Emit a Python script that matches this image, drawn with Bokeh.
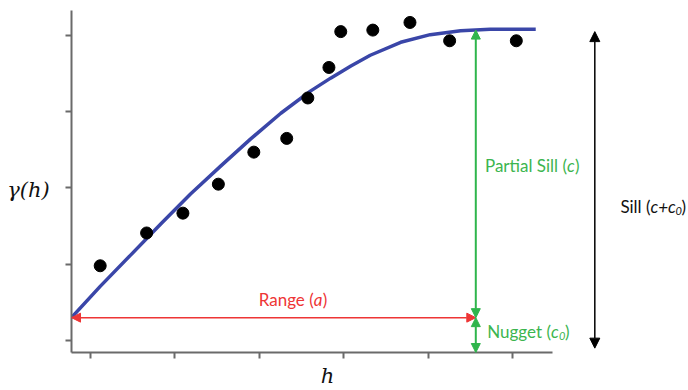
from bokeh.plotting import figure
from bokeh.layouts import row
from bokeh.models import Arrow, NormalHead, FixedTicker, CustomJSTickFormatter, Range1d
from bokeh.core.properties import value
from bokeh.embed import file_html
from bokeh.resources import INLINE

# ---- data ----
lag_h = [0.34, 0.89, 1.32, 1.74, 2.16, 2.55, 2.80, 3.05, 3.19, 3.57, 4.01, 4.48, 5.27]
semivar = [0.98, 1.41, 1.67, 2.05, 2.47, 2.65, 3.18, 3.58, 4.05, 4.07, 4.17, 3.93, 3.93]
model_h = [0.00, 0.34, 0.70, 1.06, 1.41, 1.77, 2.12, 2.48, 2.83, 3.07, 3.31, 3.54, 3.90, 4.25, 4.61, 4.96, 5.50]
model_g = [0.30, 0.71, 1.12, 1.53, 1.92, 2.29, 2.64, 2.98, 3.27, 3.44, 3.60, 3.74, 3.91, 4.01, 4.06, 4.08, 4.08]
nugget = 0.30
sill = 4.07
range_a = 4.79
x_ticks = [0.225, 1.225, 2.225, 3.225, 4.225, 5.225]
y_ticks = [0, 1, 2, 3, 4]

# ---- layout constants ----
X0, XM, X1 = 0.0, 6.066, 7.31
Y0, Y1 = -0.157, 4.458
AXIS_X_END = 5.70
AXIS_Y_END = 4.33
SILL_ARROW_X = 6.20

BLUE = "#3a46a8"
RED = "#ee3535"
GREEN = "#2fb54c"
GREEN_TXT = "#3cb54f"
AXIS = "#6a6a6a"
INK = "#111111"
FONT = value("Lato")

y_range = Range1d(Y0, Y1)

def bare(width, x_range, left=0):
    f = figure(width=width, height=390, output_backend="svg", toolbar_location=None,
               x_range=x_range, y_range=y_range,
               min_border_left=left, min_border_right=0, min_border_top=0, min_border_bottom=37)
    f.outline_line_color = None
    f.grid.visible = False
    f.background_fill_color = "white"
    f.border_fill_color = "white"
    return f

# left strip: y-axis title
pl = bare(60, Range1d(0, 60))
pl.axis.visible = False
pl.text(x=[28], y=[1.97], text=["γ(h)"], text_font=value("DejaVu Serif"), text_font_style="italic",
        text_font_size="21px", text_color=INK, text_align="center", text_baseline="middle")

# main plot
p = bare(523, Range1d(X0, XM), left=11)
for ax in (p.xaxis[0], p.yaxis[0]):
    ax.axis_line_color = AXIS
    ax.axis_line_width = 2
    ax.major_tick_line_color = AXIS
    ax.major_tick_line_width = 2
    ax.major_tick_out = 6
    ax.major_tick_in = 0
    ax.minor_tick_line_color = None
    ax.formatter = CustomJSTickFormatter(code="return ''")
    ax.major_label_standoff = 0

p.xaxis[0].ticker = FixedTicker(ticks=x_ticks)
p.yaxis[0].ticker = FixedTicker(ticks=y_ticks)
p.xaxis[0].bounds = (X0, AXIS_X_END)
p.yaxis[0].bounds = (Y0, AXIS_Y_END)
p.xaxis[0].axis_label = "h"
p.xaxis[0].axis_label_text_font = "DejaVu Serif"
p.xaxis[0].axis_label_text_font_style = "italic"
p.xaxis[0].axis_label_text_font_size = "21px"
p.xaxis[0].axis_label_text_color = INK
p.xaxis[0].axis_label_standoff = 5

# model curve and empirical points
p.line(model_h, model_g, line_color=BLUE, line_width=3.5, line_join="round")
p.scatter(lag_h, semivar, size=12, fill_color="black", line_color="black")

def head(color, size=9):
    return NormalHead(size=size, fill_color=color, line_color=color)

# range arrow
p.add_layout(Arrow(start=head(RED), end=head(RED), x_start=X0, y_start=nugget,
                   x_end=range_a, y_end=nugget, line_color=RED, line_width=1.5))
# partial sill arrow
p.add_layout(Arrow(start=head(GREEN), end=head(GREEN), x_start=range_a, y_start=nugget,
                   x_end=range_a, y_end=sill, line_color=GREEN, line_width=2))
# nugget arrow
p.add_layout(Arrow(start=head(GREEN), end=head(GREEN), x_start=range_a, y_start=Y0,
                   x_end=range_a, y_end=nugget, line_color=GREEN, line_width=2))

FS = "17px"
SUB = "11px"

def piece(f, x, y, txt, color, italic=False, align="left", dx=0, dy=0, size=FS):
    f.text(x=[x], y=[y], text=[txt], text_font=FONT, text_font_size=size,
           text_font_style="italic" if italic else "normal", text_color=color,
           text_align=align, text_baseline="middle", x_offset=dx, y_offset=dy)

# Range (a)
ax_, ay_ = 2.87, 0.536
piece(p, ax_, ay_, "Range (", RED, align="right")
piece(p, ax_, ay_, "a", RED, italic=True)
piece(p, ax_, ay_, ")", RED, dx=9)

# Partial Sill (c)
ax_, ay_ = 5.87, 2.301
piece(p, ax_, ay_, "Partial Sill (", GREEN_TXT, align="right")
piece(p, ax_, ay_, "c", GREEN_TXT, italic=True)
piece(p, ax_, ay_, ")", GREEN_TXT, dx=8)

# Nugget (c0)
ax_, ay_ = 5.68, 0.118
piece(p, ax_, ay_, "Nugget (", GREEN_TXT, align="right")
piece(p, ax_, ay_, "c", GREEN_TXT, italic=True)
piece(p, ax_, ay_, "0", GREEN_TXT, italic=True, dx=8, dy=4, size=SUB)
piece(p, ax_, ay_, ")", GREEN_TXT, dx=14)

# right strip: total sill arrow and label
pr = bare(105, Range1d(XM, X1))
pr.axis.visible = False
pr.add_layout(Arrow(start=head("black", 10), end=head("black", 10), x_start=SILL_ARROW_X, y_start=-0.10,
                    x_end=SILL_ARROW_X, y_end=sill - 0.02, line_color="black", line_width=1.5))
ax_, ay_ = 6.86, 1.752
piece(pr, ax_, ay_, "Sill (", INK, align="right")
piece(pr, ax_, ay_, "c+c", INK, italic=True)
piece(pr, ax_, ay_, "0", INK, italic=True, dx=25, dy=4, size=SUB)
piece(pr, ax_, ay_, ")", INK, dx=31)

layout = row(pl, p, pr, spacing=0)
open("out.html", "w").write(file_html(layout, INLINE))
